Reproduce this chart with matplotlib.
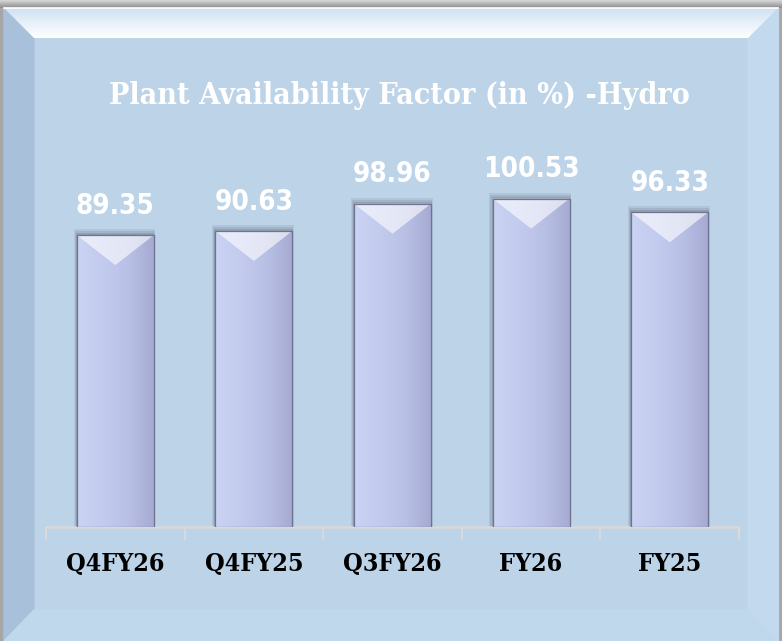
import matplotlib
matplotlib.use("Agg")
import matplotlib.pyplot as plt
import numpy as np
from matplotlib.patches import Polygon, Rectangle
from matplotlib.colors import LinearSegmentedColormap

categories = ["Q4FY26", "Q4FY25", "Q3FY26", "FY26", "FY25"]
values = [89.35, 90.63, 98.96, 100.53, 96.33]
title = "Plant Availability Factor (in %) -Hydro"

W, H = 782, 641
fig = plt.figure(figsize=(W / 100, H / 100), dpi=100)

# background frame drawn in pixel coords
bg = fig.add_axes([0, 0, 1, 1])
bg.set_xlim(0, W)
bg.set_ylim(H, 0)
bg.axis("off")
bg.add_patch(Rectangle((0, 0), W, H, color="#a6a6a6"))
grad = np.linspace(0, 1, 50).reshape(-1, 1)
bg.imshow(grad, extent=(0, W, 8, 0), cmap=LinearSegmentedColormap.from_list("g", ["#d8d8d8", "#8c8c8c"]),
          aspect="auto", zorder=1)
panel = "#bcd3e8"
bg.add_patch(Rectangle((4, 8), W - 8, H - 8, color=panel, zorder=2))
left = Polygon([(4, 8), (34, 38), (34, 610), (4, 641)], closed=True, color="#a9c0da", zorder=3)
right = Polygon([(W - 4, 8), (W - 34, 38), (W - 34, 610), (W - 4, 641)], closed=True, color="#c3daee", zorder=3)
bottom = Polygon([(4, 641), (34, 610), (W - 34, 610), (W - 4, 641)], closed=True, color="#c0d8ec", zorder=3)
top = Polygon([(4, 8), (W - 4, 8), (W - 34, 38), (34, 38)], closed=True, facecolor="none", edgecolor="none", zorder=4)
bg.add_patch(left)
bg.add_patch(right)
bg.add_patch(bottom)
bg.add_patch(top)
tg = bg.imshow(np.linspace(0, 1, 60).reshape(-1, 1), extent=(0, W, 38, 8),
               cmap=LinearSegmentedColormap.from_list("t", ["#cfe2f2", "#ffffff"]), aspect="auto", zorder=4)
tg.set_clip_path(top)
bg.plot([4, W - 4], [8, 8], color="white", lw=1.2, zorder=5)

# main chart
ax = fig.add_axes([46 / W, 114 / H, (739 - 46) / W, 392 / H])
ax.set_facecolor("none")
x = np.arange(len(categories))
bars = ax.bar(x, values, width=0.555, color="#c2caec", edgecolor="#6f7390", linewidth=0.8, zorder=3)
ax.set_xlim(-0.5, len(categories) - 0.5)
ax.set_ylim(0, 120)

px_per_unit = 392 / 120
fill = LinearSegmentedColormap.from_list("b", ["#cad3f3", "#c3cbee", "#b9c0e6", "#a6abd2"])
for b in bars:
    x0, w, h = b.get_x(), b.get_width(), b.get_height()
    # soft shadow
    for k, a in zip([6, 4, 2], [0.10, 0.14, 0.18]):
        ax.add_patch(Rectangle((x0 - k * 0.004, 0), w + k * 0.006, h + k / px_per_unit,
                               color="#4a5060", alpha=a, lw=0, zorder=2))
    im = ax.imshow(np.linspace(0, 1, 100).reshape(1, -1), extent=(x0, x0 + w, 0, h),
                   cmap=fill, aspect="auto", zorder=3.1)
    im.set_clip_path(b)
    dv = 30 / px_per_unit
    vshape = Polygon([(x0, h), (x0 + w, h), (x0 + w / 2, h - dv)], closed=True,
                     facecolor="white", alpha=0.6, lw=0, zorder=3.2)
    ax.add_patch(vshape)
    ax.add_patch(Rectangle((x0, 0), w, h, facecolor="none", edgecolor="#6f7390", lw=0.9, zorder=3.3))
    ax.annotate(f"{h:.2f}", (x0 + w / 2, h), xytext=(0, 11), textcoords="offset points",
                ha="center", va="bottom", color="white", fontsize=20, fontweight="bold",
                fontstretch="condensed", family=["DejaVu Sans"], zorder=5)

ax.set_yticks([])
ax.set_xticks(x)
ax.set_xticklabels(categories, fontsize=18, fontweight="bold", family=["DejaVu Serif"],
                   fontstretch="condensed", color="black")
ax.set_xticks(np.arange(-0.5, len(categories)), minor=True)
ax.tick_params(axis="x", which="major", length=0, pad=18)
ax.tick_params(axis="x", which="minor", length=9, width=1.5, color="#d9d9d9")
for s in ["top", "right", "left"]:
    ax.spines[s].set_visible(False)
ax.spines["bottom"].set_color("#d9d9d9")
ax.spines["bottom"].set_linewidth(1.8)

fig.text(399 / W, 1 - 95 / H, title, ha="center", va="center", color="white",
         fontsize=21.8, fontweight="bold", family=["DejaVu Serif"], fontstretch="condensed")

fig.savefig("out.png", dpi=100)
